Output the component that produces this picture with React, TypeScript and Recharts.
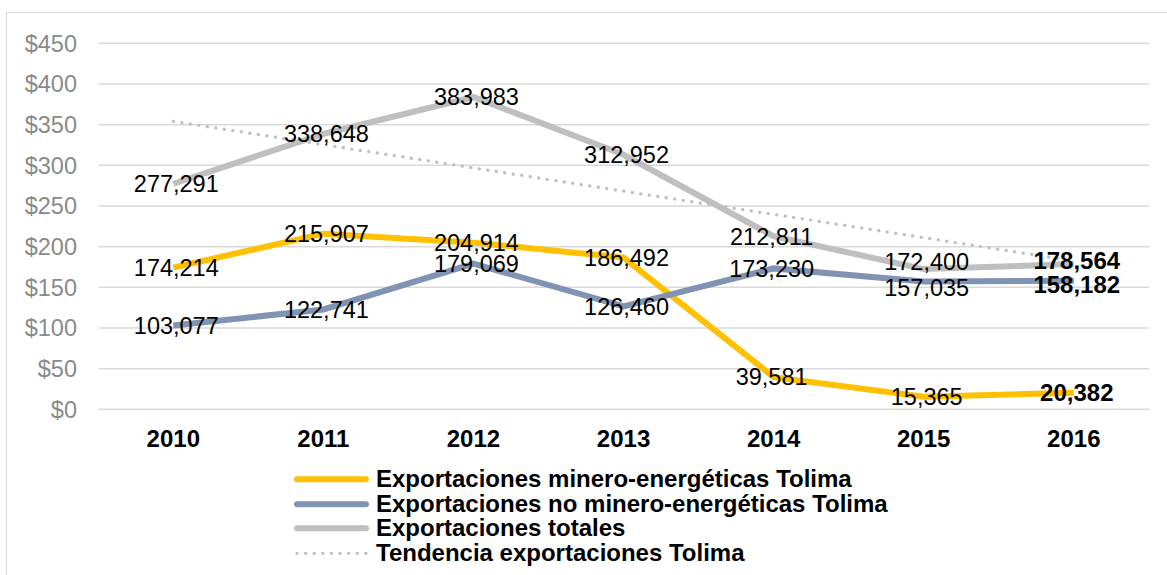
import * as React from "react";
import { CartesianGrid, LabelList, Line, LineChart, XAxis, YAxis } from "recharts";

// values in millions of USD (labels show them in thousands)
const years = ["2010", "2011", "2012", "2013", "2014", "2015", "2016"];
const minero = [174.214, 215.907, 204.914, 186.492, 39.581, 15.365, 20.382];
const noMinero = [103.077, 122.741, 179.069, 126.46, 173.23, 157.035, 158.182];
const totales = [277.291, 338.648, 383.983, 312.952, 212.811, 172.4, 178.564];
// trend line end points
const tendencia = [354, null, null, null, null, null, 182.4];
const yTicks = [0, 50, 100, 150, 200, 250, 300, 350, 400, 450];

const seriesNames = [
  "Exportaciones minero-energéticas Tolima",
  "Exportaciones no minero-energéticas Tolima",
  "Exportaciones totales",
  "Tendencia exportaciones Tolima",
];

const data = years.map((year, i) => ({
  year,
  minero: minero[i],
  noMinero: noMinero[i],
  totales: totales[i],
  tendencia: tendencia[i],
}));

const COLORS = {
  minero: "#FFC000",
  noMinero: "#8093B3",
  totales: "#BFBFBF",
  tendencia: "#BFBFBF",
  grid: "#D9D9D9",
  axis: "#8A8A8A",
};

const FONT = '"Liberation Sans", Arial, sans-serif';

// small manual nudges of the data labels, like the ones done in the original
const labelDx = [3, 3, 3, 3, -2, 3, 3];
const labelDy: Record<string, number[]> = {
  minero: [0, 0, 0, 0, 0, 0, 0],
  noMinero: [0, 0, 0, 0, 0, 6.5, 4],
  totales: [0, 0, 0, 0, 0, -7, -4],
};

const fmt = (v: number) => Math.round(v * 1000).toLocaleString("en-US");

function makeLabel(key: string) {
  return (props: any) => {
    const { x, y, value, index } = props;
    if (value == null) return null;
    const last = index === years.length - 1;
    return (
      <text
        x={x + labelDx[index]}
        y={y + labelDy[key][index]}
        dy="0.355em"
        textAnchor="middle"
        fontFamily={FONT}
        fontSize={last ? 24 : 23.5}
        fontWeight={last ? "bold" : "normal"}
        fill="#000"
      >
        {fmt(value)}
      </text>
    );
  };
}

function LegendKey({ color, dotted }: { color: string; dotted?: boolean }) {
  return (
    <svg width={80} height={24.6} style={{ display: "block" }}>
      <line
        x1={4}
        x2={73}
        y1={12.3}
        y2={12.3}
        stroke={color}
        strokeWidth={dotted ? 3.3 : 6}
        strokeLinecap="round"
        strokeDasharray={dotted ? "0.1 8.5" : undefined}
      />
    </svg>
  );
}

export default function App() {
  const legendColors = [COLORS.minero, COLORS.noMinero, COLORS.totales, COLORS.tendencia];
  return (
    <div
      style={{
        position: "fixed",
        left: 0,
        top: 0,
        width: 1167,
        height: 575,
        overflow: "hidden",
        background: "#fff",
      }}
    >
      <div
        style={{
          position: "absolute",
          left: 6,
          top: 12,
          width: 1200,
          height: 600,
          border: `1.5px solid ${COLORS.grid}`,
        }}
      />
      <div style={{ position: "absolute", left: 0, top: 0 }}>
        <LineChart
          width={1167}
          height={575}
          data={data}
          margin={{ top: 43.3, right: 18, bottom: 125.7, left: 0 }}
        >
          <CartesianGrid stroke={COLORS.grid} strokeWidth={1.5} vertical={false} />
          <XAxis
            dataKey="year"
            axisLine={false}
            tickLine={false}
            tickSize={0}
            tickMargin={20.4}
            height={40}
            padding={{ left: 74.8, right: 75.2 }}
            tick={{ fill: "#000", fontSize: 24, fontWeight: "bold", fontFamily: FONT }}
          />
          <YAxis
            domain={[0, 450]}
            ticks={yTicks}
            width={98.5}
            axisLine={false}
            tickLine={false}
            tickSize={0}
            tickMargin={21.5}
            tickFormatter={(v) => `$${v}`}
            tick={{ fill: COLORS.axis, fontSize: 23.5, fontFamily: FONT }}
          />
          <Line
            dataKey="minero"
            stroke={COLORS.minero}
            strokeWidth={6}
            dot={false}
            activeDot={false}
            isAnimationActive={false}
          />
          <Line
            dataKey="noMinero"
            stroke={COLORS.noMinero}
            strokeWidth={6}
            dot={false}
            activeDot={false}
            isAnimationActive={false}
          />
          <Line
            dataKey="totales"
            stroke={COLORS.totales}
            strokeWidth={6}
            dot={false}
            activeDot={false}
            isAnimationActive={false}
          />
          <Line
            dataKey="tendencia"
            stroke={COLORS.tendencia}
            strokeWidth={3.3}
            strokeLinecap="round"
            strokeDasharray="0.1 8.5"
            connectNulls
            dot={false}
            activeDot={false}
            isAnimationActive={false}
          />
          {/* label-only passes so the numbers sit on top of every line */}
          {(["minero", "noMinero", "totales"] as const).map((key) => (
            <Line
              key={`lbl-${key}`}
              dataKey={key}
              stroke="none"
              dot={false}
              activeDot={false}
              legendType="none"
              isAnimationActive={false}
            >
              <LabelList dataKey={key} content={makeLabel(key)} />
            </Line>
          ))}
        </LineChart>
      </div>
      <div
        style={{
          position: "absolute",
          left: 293,
          top: 467,
          fontFamily: FONT,
          fontSize: 24,
          fontWeight: "bold",
          color: "#000",
        }}
      >
        {seriesNames.map((name, i) => (
          <div
            key={name}
            style={{ display: "flex", alignItems: "center", height: 24.6, lineHeight: "24.6px", whiteSpace: "nowrap" }}
          >
            <LegendKey color={legendColors[i]} dotted={i === 3} />
            <span style={{ marginLeft: 3 }}>{name}</span>
          </div>
        ))}
      </div>
    </div>
  );
}
